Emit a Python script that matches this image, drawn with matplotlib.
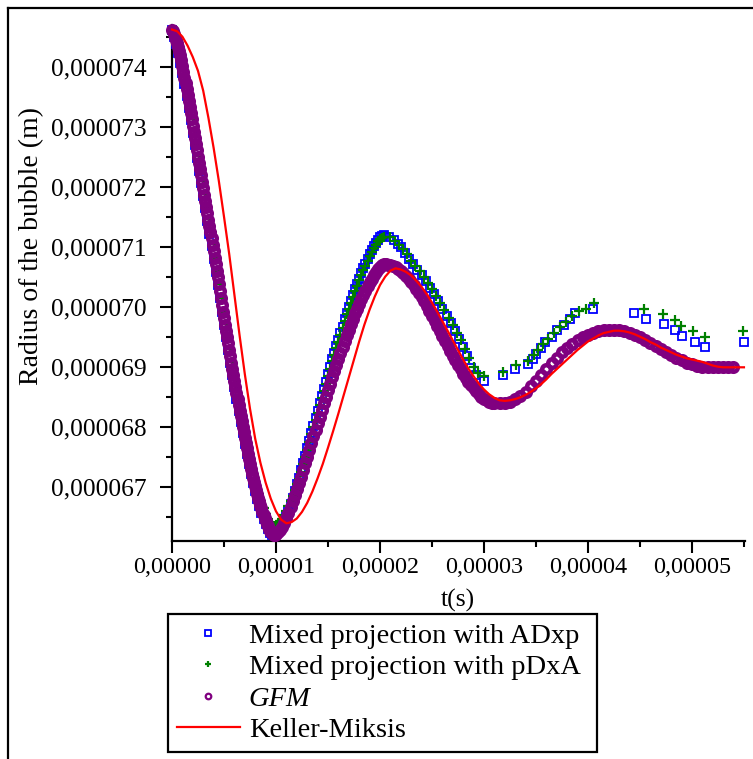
import numpy as np
import matplotlib
matplotlib.use("Agg")
import matplotlib.pyplot as plt
from matplotlib.ticker import MultipleLocator, FuncFormatter
from matplotlib.lines import Line2D

plt.rcParams['font.family'] = ['Liberation Serif', 'DejaVu Serif']

# ---------------- data (t in microseconds, R in micrometres) ----------------
t_gfm = [0.0,0.1,0.2,0.3,0.4,0.5,0.6,0.7,0.8,0.9,1.0,1.1,1.2,1.3,1.4,1.5,1.6,1.7,1.8,1.9,
         2.0,2.1,2.2,2.3,2.4,2.5,2.6,2.7,2.8,2.9,3.0,3.1,3.2,3.3,3.4,3.5,3.6,3.7,3.8,3.9,
         4.0,4.1,4.2,4.3,4.4,4.5,4.6,4.7,4.8,4.9,5.0,5.1,5.2,5.3,5.4,5.5,5.6,5.7,5.8,5.9,
         6.0,6.1,6.2,6.3,6.4,6.5,6.6,6.7,6.8,6.9,7.0,7.1,7.2,7.3,7.4,7.5,7.6,7.7,7.8,7.9,
         8.0,8.1,8.2,8.3,8.4,8.5,8.6,8.7,8.8,8.9,9.0,9.1,9.2,9.3,9.4,9.5,9.6,9.7,9.8,9.9,10.0,
         10.2,10.4,10.6,10.8,11.0,11.2,11.4,11.6,11.8,12.0,12.2,12.4,12.6,12.8,13.0,13.2,13.4,13.6,13.8,14.0,
         14.2,14.4,14.6,14.8,15.0,15.2,15.4,15.6,15.8,16.0,16.2,16.4,16.6,16.8,17.0,17.2,17.4,17.6,17.8,18.0,
         18.2,18.4,18.6,18.8,19.0,19.2,19.4,19.6,19.8,20.0,20.2,20.4,20.6,20.8,
         21.0,21.25,21.5,21.75,22.0,22.25,22.5,22.75,23.0,23.25,23.5,23.75,24.0,24.25,24.5,24.75,
         25.0,25.25,25.5,25.75,26.0,26.25,26.5,26.75,27.0,27.25,27.5,27.75,28.0,28.25,28.5,28.75,
         29.0,29.25,29.5,29.75,30.0,30.25,30.5,30.75,31.0,
         31.5,32.0,32.5,33.0,33.5,34.0,34.5,35.0,35.5,36.0,36.5,37.0,37.5,38.0,38.5,39.0,39.5,40.0,
         40.5,41.0,41.5,42.0,42.5,
         43.0,43.5,44.0,44.5,45.0,45.5,46.0,46.5,47.0,47.5,48.0,48.5,49.0,49.5,50.0,50.5,51.0,51.5,
         52.0,52.5,53.0,53.5,53.9]
r_gfm = [74.62,74.59,74.55,74.50,74.45,74.39,74.33,74.26,74.19,74.11,
         74.02,73.92,73.82,73.73,73.63,73.53,73.43,73.33,73.23,73.12,
         73.02,72.92,72.82,72.71,72.61,72.50,72.40,72.29,72.19,72.08,
         71.98,71.87,71.77,71.66,71.56,71.45,71.35,71.24,71.14,71.03,
         70.93,70.82,70.71,70.60,70.49,70.37,70.26,70.14,70.03,69.92,
         69.81,69.70,69.60,69.49,69.39,69.28,69.18,69.07,68.97,68.86,
         68.76,68.66,68.56,68.46,68.37,68.27,68.18,68.09,68.00,67.91,
         67.82,67.73,67.64,67.55,67.47,67.38,67.30,67.22,67.15,67.08,
         67.01,66.94,66.88,66.82,66.76,66.70,66.64,66.58,66.53,66.48,
         66.43,66.38,66.34,66.30,66.27,66.24,66.22,66.21,66.20,66.20,66.21,
         66.24,66.28,66.33,66.40,66.48,66.57,66.66,66.76,66.86,66.96,
         67.06,67.17,67.28,67.39,67.50,67.61,67.73,67.84,67.95,68.06,
         68.17,68.28,68.39,68.50,68.61,68.72,68.83,68.93,69.03,69.13,
         69.23,69.33,69.43,69.53,69.62,69.71,69.80,69.89,69.97,70.05,
         70.13,70.20,70.27,70.34,70.41,70.47,70.53,70.58,70.63,70.67,
         70.69,70.71,70.71,70.70,
         70.69,70.68,70.66,70.63,70.60,70.56,70.52,70.47,70.42,70.36,
         70.30,70.23,70.16,70.09,70.01,69.93,69.85,69.77,69.68,69.60,
         69.52,69.43,69.35,69.27,69.18,69.11,69.03,68.96,68.88,68.82,
         68.75,68.70,68.64,68.59,68.55,68.50,68.47,68.44,68.42,68.40,68.39,
         68.39,68.40,68.42,68.46,68.51,68.58,68.67,68.77,68.87,68.97,69.06,69.15,69.24,69.32,
         69.38,69.44,69.49,69.53,69.56,69.59,69.61,69.62,69.62,
         69.61,69.60,69.57,69.53,69.49,69.45,69.40,69.35,69.30,69.25,69.20,69.15,69.11,69.07,
         69.04,69.01,69.00,68.99,68.99,68.99,68.99,68.99,68.99]

t_adxp = [0.0,0.2,0.4,0.6,0.8,1.0,1.2,1.4,1.6,1.8,2.0,2.2,2.4,2.6,2.8,3.0,3.2,3.4,3.6,3.8,
          4.0,4.2,4.4,4.6,4.8,5.0,5.2,5.4,5.6,5.8,6.0,6.2,6.4,6.6,6.8,7.0,7.2,7.4,7.6,7.8,
          8.0,8.2,8.4,8.6,8.8,9.0,9.2,9.4,9.6,9.8,
          10.0,10.2,10.4,10.6,10.8,11.0,11.2,11.4,11.6,11.8,12.0,12.2,12.4,12.6,12.8,13.0,13.2,13.4,13.6,13.8,
          14.0,14.2,14.4,14.6,14.8,15.0,15.2,15.4,15.6,15.8,16.0,16.2,16.4,16.6,16.8,17.0,17.2,17.4,17.6,17.8,
          18.0,18.2,18.4,18.6,18.8,19.0,19.2,19.4,19.6,19.8,20.0,20.2,20.4,
          20.9,21.3,21.7,22.0,22.4,22.8,23.2,23.6,24.0,24.4,24.8,25.2,25.6,26.0,26.4,26.8,27.2,27.6,28.0,28.4,
          28.8,29.2,30.0,31.8,33.0,34.2,34.7,35.0,35.5,35.9,36.5,37.0,37.7,38.3,38.8,40.5,
          44.4,45.6,47.3,48.4,49.0,50.3,51.3,55.0]
r_adxp = [74.62,74.50,74.37,74.23,74.07,73.90,73.71,73.51,73.31,73.11,
          72.90,72.69,72.48,72.27,72.06,71.85,71.64,71.43,71.22,71.01,
          70.80,70.58,70.36,70.14,69.92,69.70,69.49,69.28,69.07,68.86,
          68.66,68.46,68.27,68.08,67.90,67.72,67.55,67.38,67.22,67.07,
          66.93,66.80,66.68,66.56,66.46,66.37,66.29,66.23,66.20,66.21,
          66.21,66.24,66.29,66.34,66.42,66.51,66.61,66.71,66.82,66.93,
          67.04,67.15,67.28,67.40,67.52,67.64,67.77,67.90,68.02,68.14,
          68.26,68.39,68.51,68.63,68.75,68.88,69.00,69.12,69.23,69.34,
          69.45,69.56,69.67,69.79,69.90,70.00,70.10,70.20,70.30,70.38,
          70.47,70.56,70.64,70.71,70.80,70.87,70.94,71.01,71.06,71.12,
          71.16,71.18,71.19,
          71.17,71.11,71.04,70.99,70.90,70.80,70.71,70.62,70.53,70.43,
          70.32,70.21,70.09,69.97,69.85,69.73,69.60,69.47,69.33,69.18,
          68.98,68.86,68.77,68.86,68.96,69.04,69.13,69.22,69.31,69.41,
          69.50,69.61,69.69,69.79,69.89,69.97,
          69.89,69.79,69.71,69.61,69.51,69.41,69.33,69.41]

t_pdxa = [0.0,0.2,0.4,0.6,0.8,1.0,1.2,1.4,1.6,1.8,2.0,2.2,2.4,2.6,2.8,3.0,3.2,3.4,3.6,3.8,
          4.0,4.2,4.4,4.6,4.8,5.0,5.2,5.4,5.6,5.8,6.0,6.2,6.4,6.6,6.8,7.0,7.2,7.4,7.6,7.8,
          8.0,8.2,8.4,8.6,8.8,9.0,9.2,9.4,9.6,9.8,10.0,
          10.2,10.4,10.6,10.8,11.0,11.2,11.4,11.6,11.8,12.0,12.2,12.4,12.6,12.8,13.0,13.2,13.4,13.6,13.8,14.0,
          14.2,14.4,14.6,14.8,15.0,15.2,15.4,15.6,15.8,16.0,16.2,16.4,16.6,16.8,17.0,17.2,17.4,17.6,17.8,18.0,
          18.2,18.4,18.6,18.8,19.0,19.2,19.4,19.6,19.8,20.0,20.2,20.4,
          21.0,21.4,21.8,22.2,22.6,23.0,23.4,23.8,24.2,24.6,25.0,25.4,25.8,26.2,26.6,27.0,27.4,27.8,28.2,28.6,
          29.0,29.4,30.0,31.8,33.1,34.2,34.8,35.2,35.7,36.2,36.7,37.3,37.9,38.5,39.1,39.8,40.6,
          45.4,47.2,48.4,48.9,50.1,51.3,54.9]
r_pdxa = [74.62,74.58,74.53,74.43,74.30,74.13,73.93,73.74,73.54,73.34,
          73.13,72.93,72.72,72.51,72.30,72.09,71.88,71.67,71.46,71.25,
          71.04,70.82,70.60,70.37,70.14,69.92,69.71,69.50,69.29,69.08,
          68.87,68.67,68.48,68.29,68.11,67.93,67.75,67.58,67.41,67.26,
          67.12,66.99,66.87,66.76,66.65,66.55,66.47,66.40,66.36,66.34,66.35,
          66.38,66.42,66.47,66.53,66.60,66.68,66.76,66.85,66.94,67.04,
          67.13,67.25,67.37,67.49,67.61,67.74,67.87,67.99,68.11,68.23,
          68.36,68.48,68.60,68.72,68.85,68.97,69.09,69.20,69.31,69.42,
          69.53,69.64,69.76,69.87,69.97,70.07,70.17,70.27,70.35,70.44,
          70.53,70.61,70.68,70.77,70.84,70.91,70.98,71.03,71.09,71.13,
          71.15,71.16,
          71.16,71.10,71.03,70.96,70.87,70.77,70.68,70.59,70.50,70.40,
          70.29,70.18,70.06,69.94,69.82,69.70,69.57,69.44,69.30,69.15,
          68.99,68.89,68.84,68.91,69.03,69.10,69.20,69.28,69.38,69.47,
          69.57,69.66,69.75,69.85,69.93,69.97,70.06,
          69.97,69.87,69.78,69.68,69.59,69.50,69.59]

t_km = [0.0,0.5,1.0,1.5,2.0,2.5,3.0,3.5,4.0,4.5,5.0,5.5,6.0,6.5,7.0,7.5,8.0,8.5,9.0,9.5,
        10.0,10.5,11.0,11.5,12.0,12.5,13.0,13.5,14.0,14.5,15.0,15.5,16.0,16.5,17.0,17.5,18.0,18.5,19.0,19.5,
        20.0,20.5,21.0,21.5,22.0,22.5,23.0,23.5,24.0,24.5,25.0,25.5,26.0,26.5,27.0,27.5,28.0,28.5,29.0,29.5,
        30.0,30.5,31.0,31.5,32.0,32.5,33.0,33.5,34.0,34.5,35.0,35.5,36.0,36.5,37.0,37.5,38.0,38.5,39.0,39.5,
        40.0,40.5,41.0,41.5,42.0,42.5,43.0,43.5,44.0,44.5,45.0,45.5,46.0,46.5,47.0,47.5,48.0,48.5,49.0,49.5,
        50.0,50.5,51.0,51.5,52.0,52.5,53.0,53.5,54.0,54.5,55.0]
r_km = [74.62,74.59,74.50,74.35,74.16,73.93,73.60,73.15,72.65,72.10,
        71.50,70.88,70.20,69.52,68.88,68.30,67.80,67.40,67.07,66.80,
        66.59,66.45,66.39,66.41,66.47,66.58,66.73,66.92,67.14,67.38,
        67.65,67.93,68.22,68.52,68.82,69.12,69.42,69.70,69.95,70.17,
        70.36,70.50,70.60,70.64,70.62,70.58,70.52,70.43,70.33,70.21,
        70.07,69.92,69.76,69.60,69.44,69.28,69.12,68.97,68.84,68.72,
        68.62,68.54,68.48,68.44,68.43,68.44,68.46,68.49,68.53,68.58,
        68.64,68.71,68.79,68.88,68.96,69.04,69.12,69.20,69.28,69.35,
        69.42,69.47,69.52,69.56,69.58,69.60,69.60,69.59,69.57,69.54,
        69.50,69.46,69.41,69.37,69.32,69.28,69.24,69.20,69.17,69.14,
        69.12,69.10,69.08,69.05,69.02,69.00,68.99,68.99,68.99,68.99,68.99]

x_ticks = [0.0, 1e-5, 2e-5, 3e-5, 4e-5, 5e-5]
y_ticks = [67e-6, 68e-6, 69e-6, 70e-6, 71e-6, 72e-6, 73e-6, 74e-6]
labels = ['Mixed projection with ADxp', 'Mixed projection with pDxA', 'GFM', 'Keller-Miksis']

US = 1e-6  # unit conversion micro -> SI

W, H = 753, 759
fig = plt.figure(figsize=(W / 100, H / 100), dpi=100)
ax = fig.add_axes([172 / W, 1 - 541 / H, 573 / W, 516 / H])

ax.plot(np.array(t_adxp) * US, np.array(r_adxp) * US, ls='none', marker='s', ms=5.2,
        mfc='none', mec='#0000ff', mew=1.3, label=labels[0], clip_on=False, zorder=3)
ax.plot(np.array(t_pdxa) * US, np.array(r_pdxa) * US, ls='none', marker='+', ms=7,
        mec='#008000', mew=1.6, label=labels[1], clip_on=False, zorder=4)
ax.plot(np.array(t_gfm) * US, np.array(r_gfm) * US, ls='none', marker='o', ms=6.2,
        mfc='none', mec='#800080', mew=3.2, label=labels[2], clip_on=False, zorder=5)
ax.plot(np.array(t_km) * US, np.array(r_km) * US, ls='-', color='#ff0000', lw=1.6,
        label=labels[3], clip_on=False, zorder=6)

ax.set_xlim(0, 55.1e-6)
ax.set_ylim(66.095e-6, 74.695e-6)

for s in ['top', 'right']:
    ax.spines[s].set_visible(False)
for s in ['left', 'bottom']:
    ax.spines[s].set_linewidth(1.6)

ax.set_xticks(x_ticks)
ax.set_yticks(y_ticks)
ax.xaxis.set_minor_locator(MultipleLocator(0.5e-5))
ax.yaxis.set_minor_locator(MultipleLocator(0.5e-6))
ax.xaxis.set_major_formatter(FuncFormatter(lambda v, p: f"{v:.5f}".replace('.', ',')))
ax.yaxis.set_major_formatter(FuncFormatter(lambda v, p: f"{v:.6f}".replace('.', ',')))
ax.tick_params(which='major', direction='out', length=8.5, width=1.5, colors='black')
ax.tick_params(which='minor', direction='out', length=4.3, width=1.5)
ax.tick_params(axis='y', which='major', pad=10, labelsize=18.4)
ax.tick_params(axis='x', which='major', pad=3, labelsize=17.4)

fig.text(32 / W, 1 - 246 / H, 'Radius of the bubble (m)', rotation=90, ha='center', va='center', fontsize=20)
fig.text(457.5 / W, 1 - 600 / H, 't(s)', ha='center', va='center', fontsize=18.5)

leg = ax.legend(loc='upper left', bbox_to_anchor=(168 / W, 1 - 750 / H, 429 / W, 136 / H),
                bbox_transform=fig.transFigure, mode='expand',
                borderaxespad=0, fontsize=20.5, frameon=True, fancybox=False, framealpha=1,
                edgecolor='black', handlelength=2.2, handletextpad=0.32, borderpad=0.32,
                labelspacing=0.19, markerscale=0.62)
leg.get_frame().set_linewidth(1.6)
leg.get_texts()[2].set_style('italic')
hs = leg.legend_handles
hs[0].set_markersize(4.0)
hs[0].set_markeredgewidth(1.3)
hs[1].set_markersize(5.0)
hs[1].set_markeredgewidth(1.6)
hs[2].set_markersize(4.0)
hs[2].set_markeredgewidth(1.6)

# figure frame (top and left edges)
fig.add_artist(Line2D([7.5 / W, 1.0], [1 - 8 / H, 1 - 8 / H], transform=fig.transFigure, color='black', lw=1.6))
fig.add_artist(Line2D([7.5 / W, 7.5 / W], [0.0, 1 - 8 / H], transform=fig.transFigure, color='black', lw=1.6))

fig.savefig('out.png', dpi=100)
